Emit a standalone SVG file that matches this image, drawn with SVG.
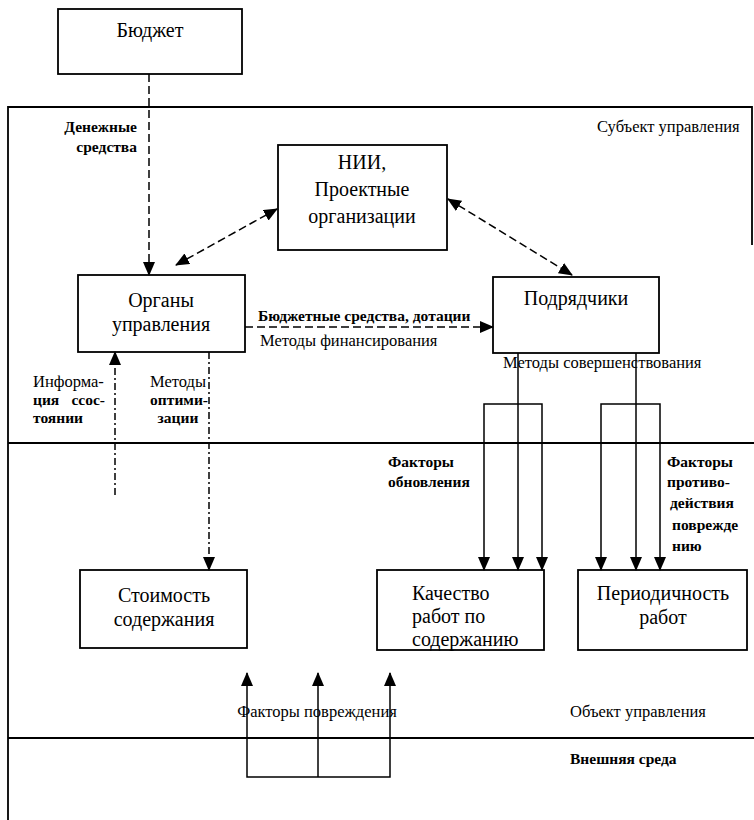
<svg xmlns="http://www.w3.org/2000/svg" width="754" height="820" viewBox="0 0 754 820">
<defs>
<marker id="ah" markerUnits="userSpaceOnUse" markerWidth="14" markerHeight="12" viewBox="0 0 14 12" refX="13" refY="6" orient="auto-start-reverse">
<path d="M0,0 L14,6 L0,12 Z" fill="#000"/>
</marker>
</defs>
<style>
.box{fill:#fff;stroke:#000;stroke-width:1.8}
.frame{fill:none;stroke:#000;stroke-width:1.8}
.ln{fill:none;stroke:#000;stroke-width:1.5}
.dash{fill:none;stroke:#000;stroke-width:1.5;stroke-dasharray:8 4}
.dd{fill:none;stroke:#000;stroke-width:1.5;stroke-dasharray:7 3 2 3}
text{font-family:"Liberation Serif","Times New Roman",serif;fill:#000}
.nt{font-size:20px}
.lb{font-size:16.5px}
.b{font-weight:bold;font-size:15.5px}
.c{text-anchor:middle}
.e{text-anchor:end}
</style>
<g id="frame">
<path class="frame" d="M8,820 V107 H752 V245"/>
<line class="frame" x1="8" y1="443" x2="754" y2="443"/>
<line class="frame" x1="8" y1="738" x2="754" y2="738"/>
<text class="lb" x="597" y="132">Субъект управления</text>
<text class="lb" x="570" y="717">Объект управления</text>
<text class="lb b" x="570" y="764">Внешняя среда</text>
</g>
<g id="budget">
<rect class="box" x="58" y="9" width="184" height="65"/>
<text class="nt c" x="150" y="37">Бюджет</text>
</g>
<g id="nii">
<rect class="box" x="278" y="145" width="169" height="105"/>
<text class="nt c" x="362" y="169">НИИ,</text>
<text class="nt c" x="362" y="196">Проектные</text>
<text class="nt c" x="362" y="223">организации</text>
</g>
<g id="organy">
<rect class="box" x="78" y="275" width="167" height="77"/>
<text class="nt c" x="161" y="307">Органы</text>
<text class="nt c" x="161" y="331">управления</text>
</g>
<g id="podryadchiki">
<rect class="box" x="493" y="277" width="166" height="76"/>
<text class="nt c" x="576" y="305">Подрядчики</text>
</g>
<g id="stoimost">
<rect class="box" x="80" y="570" width="167" height="78"/>
<text class="nt c" x="164" y="602">Стоимость</text>
<text class="nt c" x="164" y="626">содержания</text>
</g>
<g id="kachestvo">
<rect class="box" x="377" y="570" width="167" height="80"/>
<text class="nt" x="412" y="600">Качество</text>
<text class="nt" x="412" y="623">работ по</text>
<text class="nt" x="412" y="646">содержанию</text>
</g>
<g id="periodichnost">
<rect class="box" x="578" y="570" width="169" height="80"/>
<text class="nt c" x="663" y="600">Периодичность</text>
<text class="nt c" x="663" y="624">работ</text>
</g>
<g id="connectors">
<path class="dash" d="M149,74 V275" marker-end="url(#ah)"/>
<path class="dash" d="M176,265 L277,209" marker-start="url(#ah)" marker-end="url(#ah)"/>
<path class="dash" d="M448,199 L572,275" marker-start="url(#ah)" marker-end="url(#ah)"/>
<path class="dash" d="M245,327 H493" marker-end="url(#ah)"/>
<path class="dd" d="M115,495 V352" marker-end="url(#ah)"/>
<path class="dd" d="M209,352 V570" marker-end="url(#ah)"/>
<path class="ln" d="M518,353 V570" marker-end="url(#ah)"/>
<path class="ln" d="M484,570 V404 H542 V570" marker-start="url(#ah)" marker-end="url(#ah)"/>
<path class="ln" d="M636,353 V570" marker-end="url(#ah)"/>
<path class="ln" d="M601,570 V404 H660 V570" marker-start="url(#ah)" marker-end="url(#ah)"/>
<path class="ln" d="M247,673 V777 H390 V673" marker-start="url(#ah)" marker-end="url(#ah)"/>
<path class="ln" d="M318,777 V673" marker-end="url(#ah)"/>
<text class="lb b e" x="137" y="132">Денежные</text>
<text class="lb b e" x="137" y="152">средства</text>
<text class="lb b" x="258" y="321">Бюджетные средства, дотации</text>
<text class="lb" x="260" y="346">Методы финансирования</text>
<text class="lb" x="503" y="368">Методы совершенствования</text>
<text class="lb" x="33" y="387">Информа-</text>
<text class="lb b" x="33" y="405">ция</text>
<text class="lb b e" x="105" y="405">ссос-</text>
<text class="lb b" x="33" y="423">тоянии</text>
<text class="lb e" x="206" y="387">Методы</text>
<text class="lb b e" x="208" y="405">оптими-</text>
<text class="lb b c" x="178" y="423">зации</text>
<text class="lb b" x="388" y="467">Факторы</text>
<text class="lb b" x="388" y="487">обновления</text>
<text class="lb b" x="667" y="467">Факторы</text>
<text class="lb b" x="667" y="487">противо-</text>
<text class="lb b" x="670" y="508">действия</text>
<text class="lb b" x="672" y="530">поврежде</text>
<text class="lb b" x="672" y="551">нию</text>
<text class="lb c" x="317" y="717">Факторы повреждения</text>
</g>
</svg>
